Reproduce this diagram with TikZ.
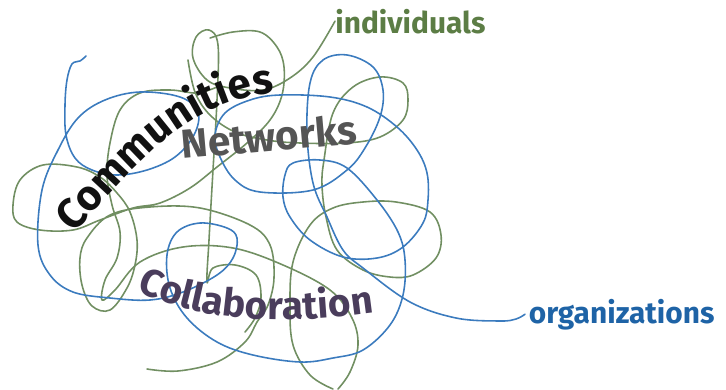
\documentclass[tikz,border=0pt]{standalone}
\usepackage{fontspec}
\setmainfont{Fira Sans}
\usetikzlibrary{decorations.text}
\definecolor{penblue}{HTML}{3B7BBE}
\definecolor{pengreen}{HTML}{718F62}
\definecolor{leafgreen}{HTML}{5C7D45}
\definecolor{inkblue}{HTML}{1E63A6}
\definecolor{inkblack}{HTML}{111111}
\definecolor{inkgray}{HTML}{555555}
\definecolor{inkplum}{HTML}{4A3D5C}

\begin{document}
\begin{tikzpicture}[
      x=0.02cm, y=-0.02cm,
      blueline/.style={draw=penblue,line width=0.9pt,line cap=round,line join=round},
      greenline/.style={draw=pengreen,line width=0.9pt,line cap=round,line join=round},
      tag/.style={inner sep=0pt,font=\fontsize{17}{20}\selectfont\bfseries},
      word/.style={inner sep=0pt,font=\fontsize{23}{26}\selectfont\bfseries}]
  \useasboundingbox (0,0) rectangle (726,389);
  \node[tag,text=leafgreen,anchor=base west] (indiv) at (335,33) {individuals};
  \node[tag,text=inkblue,anchor=base west,inner sep=2pt] (orgs) at (525,323) {organizations};
  \coordinate (hook) at (86,56);

  % the green threads
  \draw[greenline] plot[smooth,tension=0.6] coordinates {(indiv.west) (313,57) (290,78) (263,90) (230,88)
    (207,80) (193,58) (196,37) (209,30) (218,45) (217,100) (213,170) (209,240) (207,282) (213,268)
    (235,265) (256,275) (261,298) (255,318) (245,332)};
  \draw[greenline] plot[smooth,tension=0.6] coordinates {(217,87) (197,93) (170,90) (140,93) (120,110)
    (110,143) (107,175) (112,205) (120,232) (117,258) (105,280) (102,300) (115,290) (140,262) (183,247)
    (233,248) (283,265) (330,290) (352,318) (358,345) (350,372) (338,389)};
  \draw[greenline] plot[smooth,tension=0.6] coordinates {(210,38) (233,32) (260,32) (277,47) (284,67)
    (282,95) (270,120) (247,143) (217,167) (190,188) (160,203) (133,208) (100,220) (73,230) (40,230)
    (17,222) (13,205) (20,180) (43,165) (77,167) (100,177) (117,193) (130,212) (137,240) (135,265)
    (127,288) (110,310) (92,306) (82,285) (80,258) (87,238) (110,215) (150,207) (200,208) (250,225)
    (270,245) (274,278) (268,305) (257,322) (245,342) (217,362) (178,371) (147,369)};
  \draw[greenline] plot[smooth,tension=0.6] coordinates {(188,60) (195,92) (210,115) (235,132) (267,140)
    (300,143) (347,143) (380,137) (403,120) (408,100) (403,83) (380,77) (353,87) (333,113) (324,160)
    (322,185) (326,217) (337,250) (363,270) (390,277) (413,275) (436,258) (441,235) (430,212) (396,202)
    (363,202) (333,208) (310,225) (293,262) (290,305) (293,345) (310,375) (333,389)};

  % one long blue thread out to the organizations label
  \draw[blueline] plot[smooth,tension=0.6] coordinates {(hook) (80,61) (72,64) (67,80) (65,105) (66,135)
    (75,158) (92,170) (117,175) (147,170) (175,157) (194,135) (198,112) (180,97) (140,92) (105,100)
    (78,118) (58,150) (42,190) (38,245) (50,275) (73,292) (110,298) (150,300) (183,292) (217,275)
    (233,258) (237,238) (227,228) (200,223) (177,232) (167,255) (170,288) (187,318) (217,342) (253,355)
    (300,362) (333,358) (363,350) (390,325) (403,295) (405,260) (398,232) (377,200) (347,168) (320,160)
    (293,163) (285,175) (283,197) (290,217) (310,240) (343,257) (377,258) (403,247) (423,223) (428,200)
    (427,173) (417,150) (397,127) (367,107) (330,97) (280,95) (250,100) (225,113) (215,135) (220,157)
    (235,180) (260,192) (313,190) (347,170) (365,148) (380,117) (383,90) (373,67) (347,55) (323,60)
    (310,83) (307,133) (313,183) (327,217) (343,250) (363,268) (410,302) (456,318) (500,321) (516,319)
    (orgs.west)};

  % words written over the tangle
  \path[decorate,decoration={text along path,text align=center,text color=inkblack,
      text={|\fontsize{24}{26}\selectfont\bfseries|Communities}}]
    (66,240) .. controls (122,188) and (176,96) .. (284,92);
  \node[word,text=inkgray,rotate=5,anchor=base west] (net) at (182,159) {Networks};
  \path[decorate,decoration={text along path,text align=center,text color=inkplum,
      text={|\fontsize{22}{24}\selectfont\bfseries|Collaboration}}]
    (133,290) .. controls (195,318) and (270,328) .. (378,312);
\end{tikzpicture}
\end{document}
